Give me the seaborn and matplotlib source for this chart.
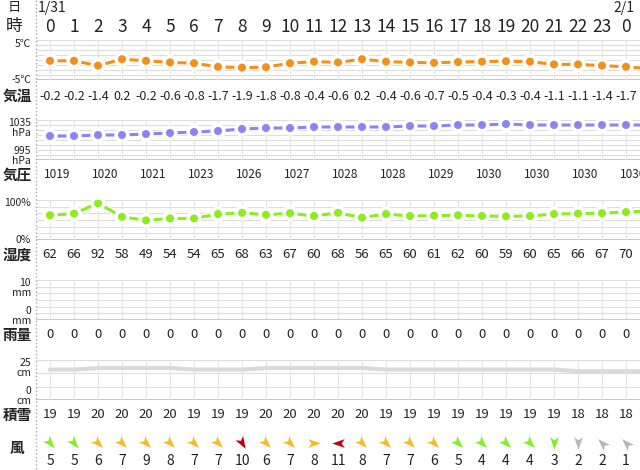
import matplotlib
matplotlib.use("Agg")
import matplotlib.pyplot as plt
import matplotlib.patheffects as pe
from matplotlib.markers import MarkerStyle
from matplotlib.path import Path
import matplotlib.transforms as mtrans
import seaborn as sns
import numpy as np
import pandas as pd

sns.set_theme(style="white")
plt.rcParams['font.family'] = ['Noto Sans CJK JP', 'DejaVu Sans']

hours = list(range(24)) + [0]
temps = [-0.2,-0.2,-1.4,0.2,-0.2,-0.6,-0.8,-1.7,-1.9,-1.8,-0.8,-0.4,-0.6,0.2,-0.4,-0.6,-0.7,-0.5,-0.4,-0.3,-0.4,-1.1,-1.1,-1.4,-1.7,-2.2]
pressure = [1019,1019,1020,1020,1021,1022,1023,1024,1026,1027,1027,1028,1028,1028,1028,1029,1029,1030,1030,1031,1030,1030,1030,1030,1030,1030]
pressure_labels = [1019,1020,1021,1023,1026,1027,1028,1028,1029,1030,1030,1030,1030]
humidity = [62,66,92,58,49,54,54,65,68,63,67,60,68,56,65,60,61,62,60,59,60,65,66,67,70,72]
rain = [0]*26
snow = [19,19,20,20,20,20,19,19,19,20,20,20,20,20,19,19,19,19,19,19,19,19,18,18,18,18]
wind_speed = [5,5,6,7,9,8,7,7,10,6,7,8,11,8,7,7,6,5,4,4,4,3,2,2,1]
wind_angle = [-50,-50,-45,-45,-45,-45,-45,-45,-60,-45,-45,0,180,-45,-45,-45,-45,-45,-45,-45,-45,-90,-90,135,135]

W, H = 640, 470
X0, DX = 50, 24
xl = ((36 - X0) / DX, (W - X0) / DX)
fig = plt.figure(figsize=(6.4, 4.7), dpi=100)

def panel(top, bot):
    ax = fig.add_axes([36 / W, 1 - bot / H, 1 - 36 / W, (bot - top) / H])
    ax.set_xlim(*xl)
    for s in ax.spines.values():
        s.set_visible(False)
    ax.set_xticks([]); ax.set_yticks([])
    return ax

def grid(ax, lo, hi, n=8):
    for v in np.linspace(lo, hi, n + 1):
        ax.axhline(v, color='#dddddd', lw=0.8, zorder=0)
    ax.axhline(lo, color='#bbbbbb', lw=1.2, zorder=0)
    for h in range(26):
        ax.axvline(h, color='#e6e6e6', lw=0.8, zorder=0)

xs = np.arange(26)
def series(ax, y, color):
    df = pd.DataFrame({'x': xs, 'y': y})
    sns.lineplot(data=df, x='x', y='y', ax=ax, color=color, lw=2.2, marker='o',
                 markersize=7, markeredgecolor='white', markeredgewidth=1.2,
                 path_effects=[pe.Stroke(linewidth=4, foreground='white'), pe.Normal()])
    ax.set_xlabel(''); ax.set_ylabel('')
    ax.set_xlim(*xl)

ax = panel(40, 80); ax.set_ylim(-5, 5); grid(ax, -5, 5); series(ax, temps, '#f39019')
ax = panel(120, 160); ax.set_ylim(995, 1035); grid(ax, 995, 1035); series(ax, pressure, '#8c84f5')
ax = panel(200, 240); ax.set_ylim(0, 100); grid(ax, 0, 100, 6); series(ax, humidity, '#8cec1c')
ax = panel(280, 320); ax.set_ylim(0, 10); grid(ax, 0, 10, 6)
ax.plot(xs, rain, color='#cccccc', lw=2)
ax = panel(360, 400); ax.set_ylim(0, 25); grid(ax, 0, 25, 3)
ax.plot(xs, snow, color='#dadada', lw=3)

# overlay for text
ov = fig.add_axes([0, 0, 1, 1], facecolor='none')
ov.set_xlim((0 - X0) / DX, (W - X0) / DX); ov.set_ylim(H, 0); ov.axis('off')
ov.plot([36 / DX + ov.get_xlim()[0]] * 2, [0, H], ls=':', color='#aaaaaa', lw=1)
px = lambda p: (p - X0) / DX
def T(x, y, s, size=10, ha='center', bold=False, color='#222222'):
    ov.text(x, y, s, fontsize=size, ha=ha, va='center', color=color,
            fontweight='bold' if bold else 'normal')

T(px(14), 8, '日', 9.5); T(px(14), 27, '時', 12)
T(px(38), 8, '1/31', 10, ha='left'); T(px(624), 8, '2/1', 10)
for i, h in enumerate(hours):
    T(i, 27, str(h), 12.5)
    T(i, 97, f'{temps[i]:.1f}', 9)
    T(i, 255, str(humidity[i]), 9.5)
    T(i, 335, str(rain[i]), 9.5)
    T(i, 415, str(snow[i]), 9.5)
    T(i, 461, str(wind_speed[i]), 10)
for k, p in enumerate(pressure_labels):
    T(2 * k + 0.3, 174, str(p), 8.5)

def lbl(y, s, size=7.5):
    T(px(31), y, s, size, ha='right')
lbl(44, '5℃'); lbl(80, '-5℃')
lbl(123, '1035'); lbl(133, 'hPa'); lbl(151, '995'); lbl(161, 'hPa')
lbl(203, '100%'); lbl(240, '0%')
lbl(283, '10'); lbl(293, 'mm'); lbl(311, '0'); lbl(321, 'mm')
lbl(363, '25'); lbl(373, 'cm'); lbl(391, '0'); lbl(401, 'cm')
for y, s in [(96, '気温'), (175, '気圧'), (255, '湿度'), (335, '雨量'), (415, '積雪'), (448, '風')]:
    T(px(17), y, s, 10.5, bold=True)

arrow = Path([(1, 0), (-1, 0.7), (-0.5, 0), (-1, -0.7), (1, 0)],
             [Path.MOVETO, Path.LINETO, Path.LINETO, Path.LINETO, Path.CLOSEPOLY])
def wcol(s):
    if s >= 10: return '#c0000a'
    if s >= 6: return '#f8bb1a'
    if s >= 3: return '#7ef01a'
    return '#b8b8b8'
for i, (s, a) in enumerate(zip(wind_speed, wind_angle)):
    m = MarkerStyle(arrow, transform=mtrans.Affine2D().rotate_deg(a))
    ov.plot(i, 443, marker=m, markersize=9, color=wcol(s), markeredgewidth=0, ls='none')

fig.savefig('out.png', dpi=100)
